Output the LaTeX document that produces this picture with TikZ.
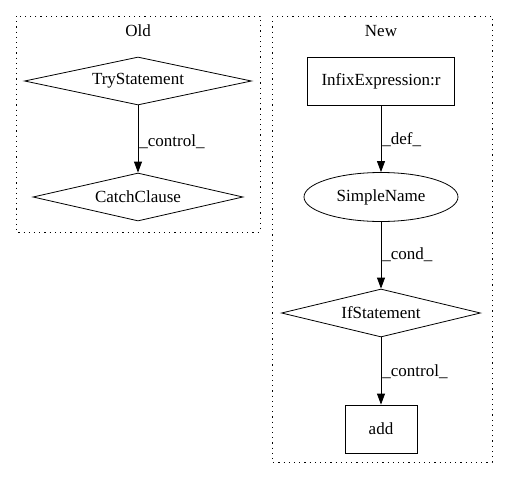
\documentclass[tikz,border=0pt]{standalone}
\usepackage{fontspec}
\setmainfont{Liberation Serif}
\usetikzlibrary{shapes.geometric,arrows.meta}
\begin{document}
\begin{tikzpicture}[x=1pt,y=-1pt,
  font=\fontsize{17}{20}\selectfont,
  cluster/.style={draw, line width=0.9pt, dash pattern=on 1.2pt off 4pt},
  dia/.style={draw, diamond, inner sep=0pt, line width=0.8pt},
  box/.style={draw, rectangle, inner sep=0pt, line width=0.8pt},
  ell/.style={draw, ellipse, inner sep=0pt, line width=0.8pt},
  edge/.style={draw, line width=0.8pt, -{Triangle[length=11pt,width=8pt]}},
  elabel/.style={anchor=west, inner sep=1pt}]
\useasboundingbox (0,0) rectangle (507,480);
\draw[cluster] (16,16) rectangle (260,232);
\draw[cluster] (272,16) rectangle (492,462);
\node (oldlbl) at (138,31) {Old};
\node (newlbl) at (381,31) {New};
\node[dia, aspect=4.73, minimum width=227pt, minimum height=48pt] (try) at (138,81) {TryStatement};
\node[dia, aspect=4.38, minimum width=210pt, minimum height=48pt] (catch) at (138,197) {CatchClause};
\node[box, minimum width=147pt, minimum height=48pt] (infix) at (381,81) {InfixExpression:r};
\node[ell, minimum width=154pt, minimum height=49pt] (simple) at (381,197) {SimpleName};
\node[dia, aspect=4.15, minimum width=199pt, minimum height=48pt] (ifst) at (381,313) {IfStatement};
\node[box, minimum width=72pt, minimum height=48pt] (add) at (381,429) {add};
\draw[edge] (try) -- node[elabel, pos=0.54] {\_control\_} (catch);
\draw[edge] (infix) -- node[elabel, pos=0.51] {\_def\_} (simple);
\draw[edge] (simple) -- node[elabel, pos=0.49] {\_cond\_} (ifst);
\draw[edge] (ifst) -- node[elabel, pos=0.51] {\_control\_} (add);
\end{tikzpicture}
\end{document}
